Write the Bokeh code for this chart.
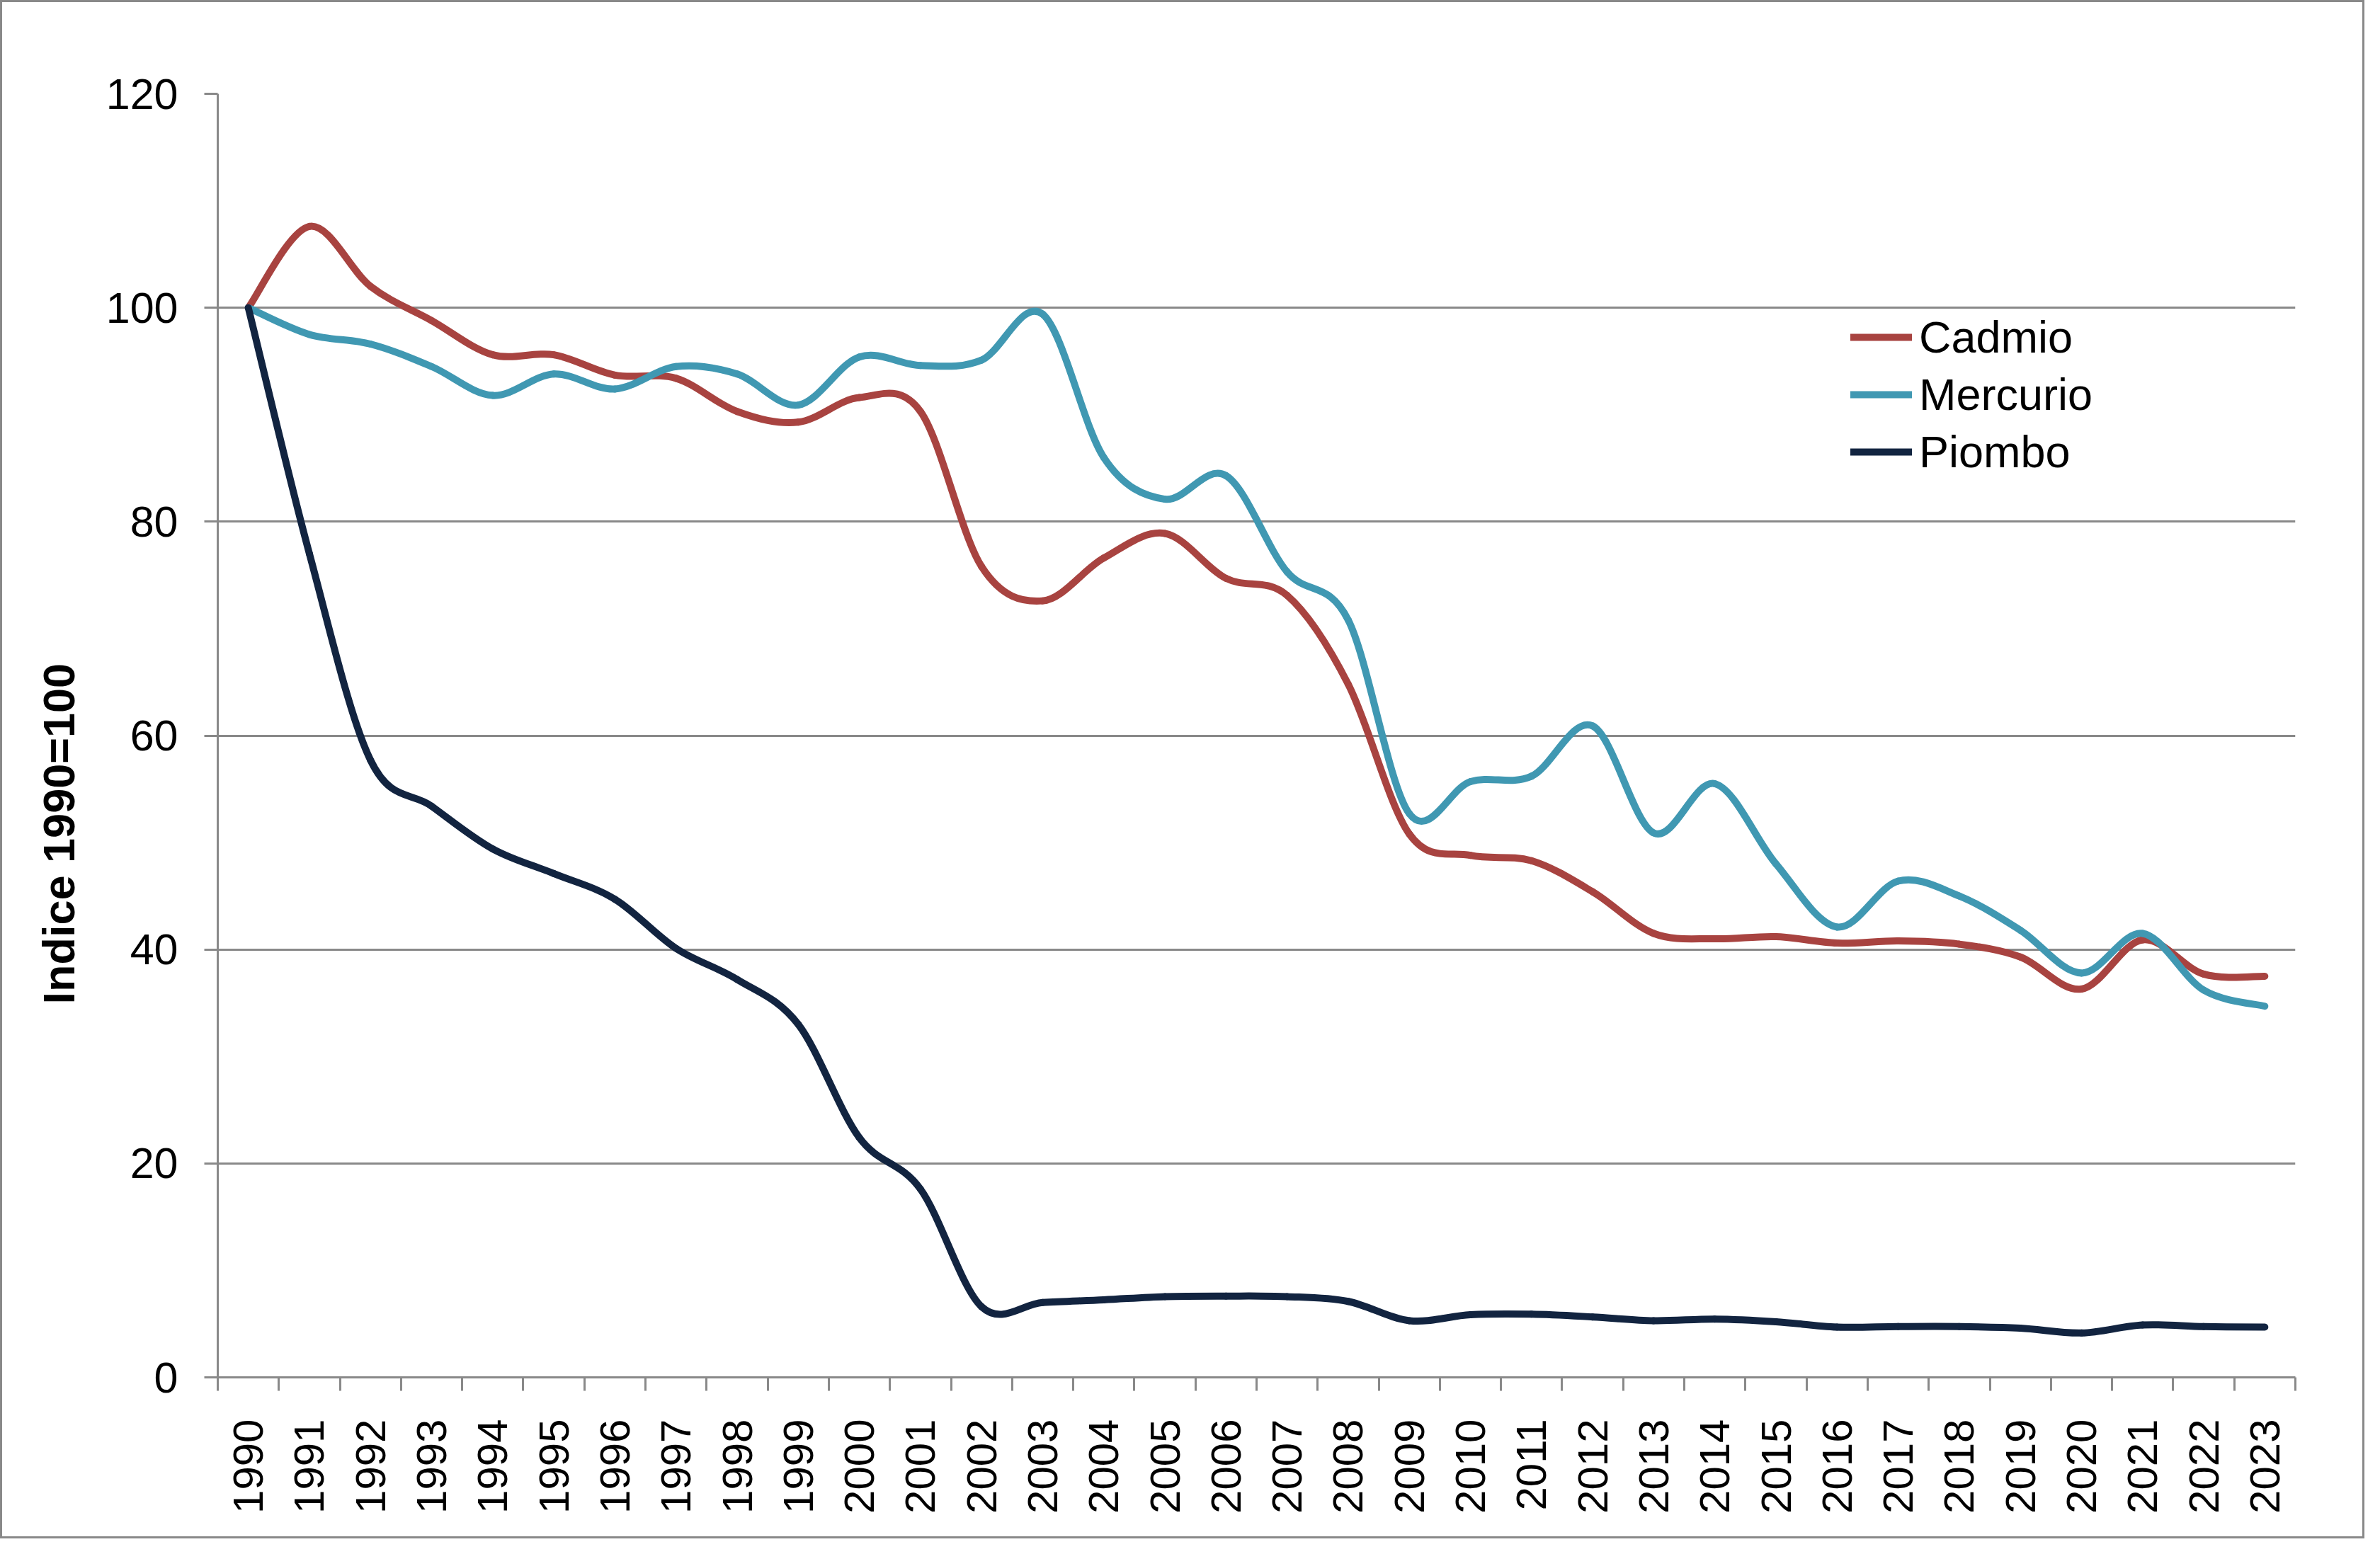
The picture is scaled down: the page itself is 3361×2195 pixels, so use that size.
import numpy as np
from bokeh.plotting import figure
from bokeh.models import FixedTicker, Range1d, Legend, LegendItem, Title, ColumnDataSource
from bokeh.embed import file_html
from bokeh.resources import INLINE

# ---------------- data ----------------
years = [str(y) for y in range(1990, 2024)]

cadmio = [100, 107.6, 102.0, 98.8, 95.6, 95.6, 93.7, 93.4, 90.3, 89.3,
          91.6, 90.3, 75.8, 72.6, 76.6, 78.9, 74.7, 73.1, 64.8, 50.8,
          48.8, 48.3, 45.4, 41.5, 41.0, 41.2, 40.6, 40.8, 40.5, 39.3,
          36.3, 40.9, 37.7, 37.5]

mercurio = [100, 97.5, 96.6, 94.5, 91.8, 93.8, 92.4, 94.5, 93.8, 90.9,
            95.4, 94.6, 95.1, 99.4, 86.0, 82.1, 84.3, 75.3, 70.8, 52.7,
            55.7, 56.2, 60.9, 50.9, 55.5, 48.0, 42.1, 46.4, 45.0, 41.8,
            37.8, 41.5, 36.2, 34.7]

piombo = [100, 77.0, 57.7, 53.4, 49.4, 47.1, 44.7, 40.1, 37.2, 33.0,
          22.4, 17.6, 6.6, 7.0, 7.25, 7.55, 7.6, 7.55, 7.1, 5.3,
          5.85, 5.9, 5.65, 5.3, 5.45, 5.2, 4.7, 4.75, 4.75, 4.6,
          4.15, 4.9, 4.75, 4.7]

series_names = ["Cadmio", "Mercurio", "Piombo"]
series_values = [cadmio, mercurio, piombo]
series_colors = ["#A84340", "#4098B2", "#122440"]

y_ticks = [0, 20, 40, 60, 80, 100, 120]
y_title = "Indice 1990=100"

GRAY = "#898989"
FONT = "Liberation Sans"


def smooth_source(vals):
    """Bezier control points (Excel-like smoothed line) derived from the data."""
    y = np.asarray(vals, dtype=float)
    xs = np.arange(len(y), dtype=float)
    n = len(y)
    tx = np.empty(n)
    ty = np.empty(n)
    tx[1:-1] = (xs[2:] - xs[:-2]) / 6.0
    ty[1:-1] = (y[2:] - y[:-2]) / 6.0
    tx[0] = (xs[1] - xs[0]) / 6.0
    ty[0] = (y[1] - y[0]) / 6.0
    tx[-1] = (xs[-1] - xs[-2]) / 6.0
    ty[-1] = (y[-1] - y[-2]) / 6.0
    return ColumnDataSource(dict(
        x0=xs[:-1], y0=y[:-1], x1=xs[1:], y1=y[1:],
        cx0=xs[:-1] + tx[:-1], cy0=y[:-1] + ty[:-1],
        cx1=xs[1:] - tx[1:], cy1=y[1:] - ty[1:],
    ))


p = figure(
    width=3339, height=2173,
    output_backend="svg", toolbar_location=None,
    x_range=Range1d(-0.5, len(years) - 0.5),
    y_range=Range1d(0, 120),
    min_border_left=304, min_border_right=101,
    min_border_top=129, min_border_bottom=231,
    background_fill_color="white", border_fill_color="white",
)
p.styles = {"border": f"3px solid {GRAY}"}
p.outline_line_color = None

# grid
p.xgrid.grid_line_color = None
p.ygrid.grid_line_color = GRAY
p.ygrid.grid_line_width = 3

# y axis
p.yaxis.ticker = FixedTicker(ticks=y_ticks)
p.yaxis.axis_line_color = GRAY
p.yaxis.axis_line_width = 3
p.yaxis.major_tick_line_color = GRAY
p.yaxis.major_tick_line_width = 3
p.yaxis.major_tick_out = 19
p.yaxis.major_tick_in = 0
p.yaxis.minor_tick_line_color = None
p.yaxis.major_label_text_font = FONT
p.yaxis.major_label_text_font_size = "61px"
p.yaxis.major_label_text_color = "black"
p.yaxis.major_label_standoff = 37

# x axis (categories, ticks between categories)
idx = list(range(len(years)))
p.xaxis.ticker = FixedTicker(ticks=idx, minor_ticks=[i - 0.5 for i in range(len(years) + 1)])
p.xaxis.major_label_overrides = {i: years[i] for i in idx}
p.xaxis.axis_line_color = GRAY
p.xaxis.axis_line_width = 3
p.xaxis.major_tick_line_color = None
p.xaxis.major_tick_out = 0
p.xaxis.major_tick_in = 0
p.xaxis.minor_tick_line_color = GRAY
p.xaxis.minor_tick_line_width = 3
p.xaxis.minor_tick_out = 19
p.xaxis.minor_tick_in = 0
p.xaxis.major_label_orientation = np.pi / 2
p.xaxis.major_label_text_font = FONT
p.xaxis.major_label_text_font_size = "60px"
p.xaxis.major_label_text_color = "black"
p.xaxis.major_label_standoff = 40

# series
items = []
for name, vals, col in zip(series_names, series_values, series_colors):
    src = smooth_source(vals)
    p.bezier(x0="x0", y0="y0", x1="x1", y1="y1", cx0="cx0", cy0="cy0",
             cx1="cx1", cy1="cy1", source=src, line_color=col, line_width=10,
             line_cap="round")
    # legend proxy kept outside the visible range
    proxy = p.line(x=[-5, -4], y=[-5, -5], line_color=col, line_width=10, line_cap="round")
    items.append(LegendItem(label=name, renderers=[proxy]))

legend = Legend(
    items=items, location=(2306, 1271), orientation="vertical",
    glyph_width=87, glyph_height=72, label_height=72, spacing=9,
    padding=0, margin=0, border_line_color=None, background_fill_alpha=0,
    label_text_font=FONT, label_text_font_size="63px", label_text_color="black",
    label_standoff=10, label_text_baseline="middle",
)
p.add_layout(legend)

# y-axis title, placed lower than the frame centre as in the original
p.add_layout(Title(
    text=y_title, align="left", offset=527, standoff=57,
    text_font=FONT, text_font_size="63px", text_font_style="bold",
    text_color="black",
), "left")

open("out.html", "w").write(file_html(p, INLINE))
